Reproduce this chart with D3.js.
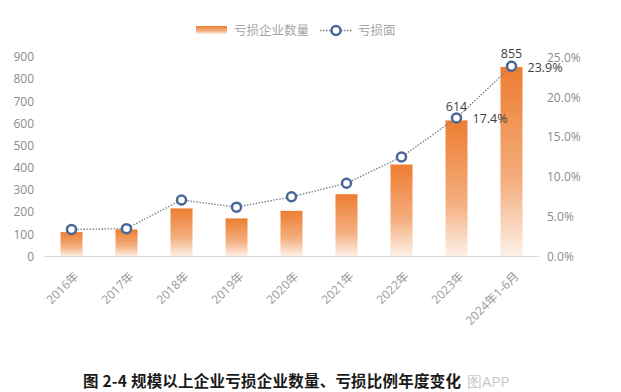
<!DOCTYPE html>
<html><head><meta charset="utf-8">
<script src="https://cdn.jsdelivr.net/npm/d3@7"></script>
<style>body{margin:0;background:#fff}svg{display:block}</style>
</head><body>
<svg id="c" width="621" height="392"></svg>
<script>
const categories = ["2016年","2017年","2018年","2019年","2020年","2021年","2022年","2023年","2024年1-6月"];
const lossCount = [110, 122, 217, 172, 206, 281, 415, 614, 855];
const lossRate = [3.4, 3.5, 7.1, 6.2, 7.5, 9.2, 12.5, 17.4, 23.9];
const leftTicks = [0,100,200,300,400,500,600,700,800,900];
const rightTicks = [0,5,10,15,20,25];
const countLabels = {7:"614", 8:"855"};
const rateLabels = {7:"17.4%", 8:"23.9%"};

const svg = d3.select("#c");
const x = d3.scaleBand().domain(categories).range([44, 539]).paddingInner(0.6).paddingOuter(0.3);
const yL = d3.scaleLinear().domain([0, 900]).range([256.5, 57]);
const yR = d3.scaleLinear().domain([0, 25]).range([256.5, 57.5]);

const defs = svg.append("defs");
const g = defs.append("linearGradient").attr("id","bg").attr("x1",0).attr("y1",0).attr("x2",0).attr("y2",1);
g.append("stop").attr("offset","0%").attr("stop-color","#ED7D31");
g.append("stop").attr("offset","60%").attr("stop-color","#F4AE7E");
g.append("stop").attr("offset","100%").attr("stop-color","#FDF1E8");

const fontNum = "'Open Sans','Liberation Sans',sans-serif";
svg.append("g").selectAll("text").data(leftTicks).join("text")
  .attr("x", 34).attr("y", d => yL(d)).attr("dy","0.35em").attr("text-anchor","end")
  .attr("font-family", fontNum).attr("font-size", 12).attr("fill","#8c8c8c").text(d => d);
svg.append("g").selectAll("text").data(rightTicks).join("text")
  .attr("x", 547).attr("y", d => yR(d)).attr("dy","0.35em").attr("text-anchor","start")
  .attr("font-family", fontNum).attr("font-size", 12).attr("fill","#8c8c8c").text(d => d.toFixed(1) + "%");

// bars
svg.append("g").selectAll("rect").data(lossCount).join("rect")
  .attr("x", (d,i) => x(categories[i])).attr("width", x.bandwidth())
  .attr("y", d => yL(d)).attr("height", d => yL(0) - yL(d))
  .attr("fill","url(#bg)");

svg.append("line").attr("x1",44).attr("x2",539).attr("y1",256.5).attr("y2",256.5)
  .attr("stroke","#d9d9d9").attr("stroke-width",1);

// x labels
svg.append("g").selectAll("text").data(categories).join("text")
  .attr("transform", d => `translate(${x(d)+x.bandwidth()/2+5},${274}) rotate(-45)`)
  .attr("text-anchor","end").attr("dy","0.35em")
  .attr("font-family", "'Open Sans','Noto Sans CJK SC',sans-serif").attr("font-size", 12).attr("fill","#9a9a9a")
  .text(d => d);

// line
const cx = i => x(categories[i]) + x.bandwidth()/2;
const line = d3.line().x((d,i) => cx(i)).y(d => yR(d));
svg.append("path").datum(lossRate).attr("d", line).attr("fill","none")
  .attr("stroke","#6f7f94").attr("stroke-width",1.3).attr("stroke-dasharray","1.5,1.5");
svg.append("g").selectAll("circle").data(lossRate).join("circle")
  .attr("cx", (d,i) => cx(i)).attr("cy", d => yR(d)).attr("r", 4.5)
  .attr("fill","#fff").attr("stroke","#4A6597").attr("stroke-width",2.5);

// data labels
Object.entries(countLabels).forEach(([i,t]) => {
  svg.append("text").attr("x", cx(+i)).attr("y", yL(lossCount[i]) - 9).attr("text-anchor","middle")
    .attr("font-family", fontNum).attr("font-size", 12.5).attr("fill","#404040").text(t);
});
Object.entries(rateLabels).forEach(([i,t]) => {
  svg.append("text").attr("x", cx(+i) + 16).attr("y", yR(lossRate[i]) + 1).attr("dy","0.35em")
    .attr("font-family", fontNum).attr("font-size", 12.5).attr("fill","#404040").text(t);
});

// legend
const lgFont = "'Noto Sans CJK SC',sans-serif";
svg.append("rect").attr("x",196).attr("y",26).attr("width",31).attr("height",8).attr("fill","url(#bg)");
svg.append("text").attr("x",234).attr("y",30.5).attr("dy","0.35em").attr("font-family",lgFont)
  .attr("font-size",12.5).attr("fill","#a6a6a6").text("亏损企业数量");
svg.append("line").attr("x1",320).attr("x2",352).attr("y1",30.5).attr("y2",30.5)
  .attr("stroke","#6f7f94").attr("stroke-width",1.3).attr("stroke-dasharray","1.5,1.5");
svg.append("circle").attr("cx",336).attr("cy",30.5).attr("r",4.5).attr("fill","#fff")
  .attr("stroke","#4A6597").attr("stroke-width",2.5);
svg.append("text").attr("x",358).attr("y",30.5).attr("dy","0.35em").attr("font-family",lgFont)
  .attr("font-size",12.5).attr("fill","#a6a6a6").text("亏损面");

// title
svg.append("text").attr("x",83).attr("y",382).attr("dy","0.35em").attr("font-family",lgFont)
  .attr("font-size",15.5).attr("font-weight","bold").attr("fill","#1a1a1a")
  .attr("textLength", 378).attr("lengthAdjust","spacing")
  .text("图 2-4 规模以上企业亏损企业数量、亏损比例年度变化");
svg.append("text").attr("x",467).attr("y",382).attr("dy","0.35em").attr("font-family",fontNum)
  .attr("font-size",15).attr("fill","#c8c8c8").text("图APP");
</script>
</body></html>
